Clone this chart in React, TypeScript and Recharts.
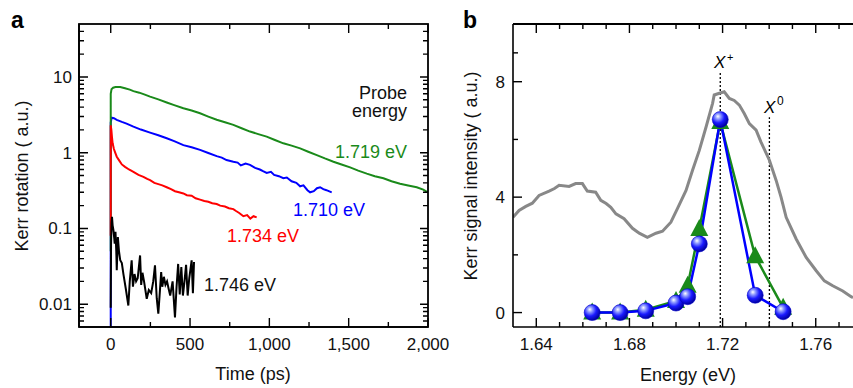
import React from 'react';
import { LineChart, Line, XAxis, YAxis, ReferenceLine } from 'recharts';

const FONT = '"Liberation Sans", Arial, Helvetica, sans-serif';
const GREEN = '#1a8a1a';

// ---------- Panel a: time-resolved Kerr rotation ----------
const greenT = [0, 0, 5, 15, 30, 60, 90, 120, 143, 180, 215, 248, 300, 353, 400, 458, 510, 563, 615, 668, 720, 773, 825, 878, 930, 983, 1035, 1088, 1140, 1194, 1245, 1299, 1350, 1404, 1455, 1509, 1560, 1614, 1665, 1719, 1770, 1824, 1875, 1929, 1970, 2000];
const greenV = [0.05, 6.0, 6.9, 7.2, 7.35, 7.35, 7.1, 6.8, 6.5, 6.2, 5.85, 5.5, 5.05, 4.6, 4.25, 3.87, 3.6, 3.32, 3.0, 2.72, 2.52, 2.33, 2.1, 1.9, 1.76, 1.63, 1.47, 1.33, 1.24, 1.14, 1.03, 0.93, 0.84, 0.76, 0.7, 0.64, 0.58, 0.53, 0.49, 0.46, 0.42, 0.39, 0.37, 0.35, 0.325, 0.3];

const blueT = [0, 0, 6, 20, 38, 70, 100, 143, 190, 248, 300, 353, 400, 458, 510, 563, 615, 668, 700, 730, 773, 800, 820, 850, 878, 910, 940, 960, 983, 1010, 1030, 1060, 1088, 1110, 1140, 1170, 1194, 1215, 1240, 1257, 1280, 1300, 1320, 1340, 1360, 1393];
const blueV = [0.005, 2.5, 2.9, 2.85, 2.71, 2.55, 2.42, 2.21, 2.02, 1.84, 1.7, 1.55, 1.42, 1.26, 1.18, 1.09, 0.99, 0.9, 0.86, 0.8, 0.76, 0.74, 0.68, 0.72, 0.69, 0.63, 0.6, 0.57, 0.54, 0.56, 0.51, 0.49, 0.46, 0.47, 0.42, 0.4, 0.36, 0.37, 0.32, 0.3, 0.31, 0.34, 0.35, 0.33, 0.32, 0.3];

const redT = [0, 0, 4, 8, 12, 20, 30, 38, 55, 70, 90, 115, 143, 175, 206, 230, 248, 275, 300, 325, 353, 380, 405, 430, 458, 480, 510, 535, 563, 590, 615, 640, 668, 690, 720, 745, 773, 790, 810, 836, 860, 880, 900, 920];
const redV = [0.08, 2.3, 2.0, 1.6, 1.33, 1.12, 0.98, 0.885, 0.78, 0.7, 0.65, 0.6, 0.56, 0.51, 0.48, 0.45, 0.435, 0.4, 0.385, 0.37, 0.35, 0.33, 0.31, 0.3, 0.29, 0.275, 0.27, 0.25, 0.24, 0.23, 0.225, 0.215, 0.21, 0.2, 0.195, 0.185, 0.18, 0.17, 0.16, 0.145, 0.15, 0.135, 0.145, 0.14];

const blackT = [0, 2, 5, 8, 12, 17, 22, 25, 30, 35, 38, 45, 52, 60, 70, 80, 95, 111, 120, 132, 140, 150, 160, 170, 185, 192, 200, 210, 227, 240, 255, 268, 279, 290, 300, 310, 318, 325, 335, 345, 355, 365, 375, 390, 405, 415, 425, 435, 445, 455, 465, 475, 485, 495, 510, 518, 525];
const blackV = [0.009, 0.06, 0.12, 0.142, 0.11, 0.095, 0.075, 0.063, 0.09, 0.05, 0.028, 0.077, 0.05, 0.038, 0.035, 0.025, 0.016, 0.0096, 0.02, 0.038, 0.017, 0.025, 0.02, 0.022, 0.044, 0.018, 0.026, 0.02, 0.0118, 0.0154, 0.014, 0.02, 0.0325, 0.012, 0.0075, 0.015, 0.0265, 0.017, 0.023, 0.018, 0.02, 0.016, 0.013, 0.02, 0.0067, 0.017, 0.034, 0.0135, 0.031, 0.013, 0.02, 0.033, 0.013, 0.022, 0.038, 0.014, 0.036];

const timeDomain = [-200, 2000];
const logDomain = [0.005, 50];
const timeMajorTicks = [0, 500, 1000, 1500, 2000];
const timeMajorLabels = ['0', '500', '1,000', '1,500', '2,000'];
const timeMinorTicks = [250, 750, 1250, 1750];
const logMajorTicks = [0.01, 0.1, 1, 10];
const logMajorLabels = ['0.01', '0.1', '1', '10'];
const logMinorTicks = [0.006, 0.007, 0.008, 0.009, 0.02, 0.03, 0.04, 0.05, 0.06, 0.07, 0.08, 0.09, 0.2, 0.3, 0.4, 0.5, 0.6, 0.7, 0.8, 0.9, 2, 3, 4, 5, 6, 7, 8, 9, 20, 30, 40];

// ---------- Panel b: spectra ----------
const plE = [1.63, 1.6326, 1.6355, 1.6383, 1.6412, 1.6455, 1.6478, 1.6498, 1.6541, 1.6569, 1.6598, 1.6619, 1.6655, 1.6677, 1.67, 1.672, 1.6742, 1.6777, 1.6813, 1.6842, 1.6877, 1.6914, 1.6942, 1.6978, 1.7006, 1.7043, 1.7071, 1.71, 1.7129, 1.7157, 1.7164, 1.7186, 1.7207, 1.7229, 1.725, 1.7272, 1.7293, 1.7315, 1.7344, 1.7365, 1.7401, 1.743, 1.7451, 1.7473, 1.7516, 1.7559, 1.7602, 1.7637, 1.7673, 1.7716, 1.7752, 1.776];
const plV = [3.3, 3.54, 3.68, 3.79, 4.06, 4.21, 4.3, 4.41, 4.37, 4.47, 4.47, 4.21, 4.17, 3.89, 3.78, 3.65, 3.42, 3.25, 2.92, 2.75, 2.61, 2.75, 2.82, 3.13, 3.6, 4.23, 4.93, 5.62, 6.43, 7.25, 7.54, 7.6, 7.65, 7.42, 7.35, 7.19, 6.9, 6.55, 6.32, 5.91, 5.28, 4.58, 4.0, 3.3, 2.55, 1.91, 1.45, 1.1, 0.93, 0.75, 0.55, 0.52];

const probeE = [1.664, 1.676, 1.687, 1.7, 1.705, 1.71, 1.719, 1.734, 1.746];
const blueSignal = [0, 0, 0.06, 0.33, 0.55, 2.38, 6.69, 0.6, 0.03];
const greenSignal = [0, 0, 0.1, 0.4, 0.93, 2.9, 6.6, 1.95, 0.17];

const eDomain = [1.63, 1.776];
const sDomain = [-0.5, 10];
const eMajorTicks = [1.64, 1.68, 1.72, 1.76];
const eMajorLabels = ['1.64', '1.68', '1.72', '1.76'];
const eMinorTicks = [1.65, 1.66, 1.67, 1.69, 1.7, 1.71, 1.73, 1.74, 1.75, 1.77];
const sMajorTicks = [0, 4, 8];
const sMajorLabels = ['0', '4', '8'];
const sMinorTicks = [2, 6, 9];

const xPlusEnergy = 1.719;
const xZeroEnergy = 1.7401;

const zip = (xs: number[], ys: number[], kx: string, ky: string) => xs.map((x, i) => ({ [kx]: x, [ky]: ys[i] }));
const greenData = zip(greenT, greenV, 't', 'v');
const blueData = zip(blueT, blueV, 't', 'v');
const redData = zip(redT, redV, 't', 'v');
const blackData = zip(blackT, blackV, 't', 'v');
const plData = zip(plE, plV, 'e', 'v');
const blueSigData = zip(probeE, blueSignal, 'e', 'v');
const greenSigData = zip(probeE, greenSignal, 'e', 'v');

// layout (pixels)
const TOP = 24;
const PLOT_H = 303;
const A_LEFT = 79;
const A_W = 349;
const B_LEFT = 513;

const labelOf = (v: number, ticks: number[], labels: string[]) => {
  const i = ticks.indexOf(v);
  return i >= 0 ? labels[i] : null;
};

// bottom ticks (inward) + mirrored top ticks
const makeBottomTick = (ticks: number[], labels: string[]) => (p: any) => {
  const { x, y, payload } = p;
  const lab = labelOf(payload.value, ticks, labels);
  const len = lab !== null ? 9 : 5;
  return (
    <g>
      <path d={`M${x},${y}V${y - len}M${x},${TOP}V${TOP + len}`} stroke="#000" strokeWidth={1.4} fill="none" />
      {lab !== null && (
        <text x={x} y={y + 23} textAnchor="middle" fontSize={17} fontFamily={FONT} fill="#111">{lab}</text>
      )}
    </g>
  );
};
// left ticks (inward) + optional mirrored right ticks
const makeLeftTick = (ticks: number[], labels: string[], gap: number, mirrorX: number) => (p: any) => {
  const { x, y, payload } = p;
  const lab = labelOf(payload.value, ticks, labels);
  const len = lab !== null ? 9 : 5;
  const rlen = lab !== null ? 8 : 5;
  const d = mirrorX > 0 ? `M${x},${y}H${x + len}M${mirrorX},${y}H${mirrorX - rlen}` : `M${x},${y}H${x + len}`;
  return (
    <g>
      <path d={d} stroke="#000" strokeWidth={1.4} fill="none" />
      {lab !== null && (
        <text x={x - gap} y={y + 6} textAnchor="end" fontSize={17} fontFamily={FONT} fill="#111">{lab}</text>
      )}
    </g>
  );
};

const Sphere = (p: any) => {
  const { cx, cy } = p;
  if (cx == null || cy == null) return <g />;
  return <circle cx={cx} cy={cy} r={8} fill="url(#sphereGrad)" stroke="#0000c8" strokeWidth={0.6} />;
};
const Tri = (p: any) => {
  const { cx, cy } = p;
  if (cx == null || cy == null) return <g />;
  return <polygon points={`${cx},${cy - 10} ${cx - 9},${cy + 7} ${cx + 9},${cy + 7}`} fill={GREEN} />;
};

const axisLine = { stroke: '#000', strokeWidth: 1.6 };

export default function App() {
  const timeAll = [...timeMajorTicks, ...timeMinorTicks].sort((a, b) => a - b);
  const logAll = [...logMajorTicks, ...logMinorTicks].sort((a, b) => a - b);
  const eAll = [...eMajorTicks, ...eMinorTicks].sort((a, b) => a - b);
  const sAll = [...sMajorTicks, ...sMinorTicks].sort((a, b) => a - b);
  return (
    <div style={{ position: 'absolute', left: 0, top: 0, width: 853, height: 388, background: '#fff', overflow: 'hidden', fontFamily: FONT }}>
      <svg width={0} height={0} style={{ position: 'absolute' }}>
        <defs>
          <radialGradient id="sphereGrad" cx="38%" cy="35%" r="65%" fx="35%" fy="30%">
            <stop offset="0%" stopColor="#ffffff" />
            <stop offset="25%" stopColor="#8f9bff" />
            <stop offset="60%" stopColor="#1a1aff" />
            <stop offset="100%" stopColor="#0000a0" />
          </radialGradient>
        </defs>
      </svg>

      <div style={{ position: 'absolute', left: 0, top: 0 }}>
        <LineChart width={460} height={388} margin={{ top: TOP, right: 460 - A_LEFT - A_W, left: 0, bottom: 0 }}>
          <XAxis type="number" dataKey="t" domain={timeDomain} allowDataOverflow ticks={timeAll} interval={0}
            tickSize={0} tickMargin={0} height={388 - TOP - PLOT_H} axisLine={axisLine} tick={makeBottomTick(timeMajorTicks, timeMajorLabels)} />
          <YAxis type="number" dataKey="v" scale="log" domain={logDomain} allowDataOverflow ticks={logAll} interval={0}
            tickSize={0} tickMargin={0} width={A_LEFT} axisLine={axisLine} tick={makeLeftTick(logMajorTicks, logMajorLabels, 7, A_LEFT + A_W)} />
          <Line data={blueData} dataKey="v" stroke="#0000ff" strokeWidth={2} dot={false} isAnimationActive={false} />
          <Line data={greenData} dataKey="v" stroke={GREEN} strokeWidth={2} dot={false} isAnimationActive={false} />
          <Line data={redData} dataKey="v" stroke="#ff0000" strokeWidth={2} dot={false} isAnimationActive={false} />
          <Line data={blackData} dataKey="v" stroke="#000" strokeWidth={2} dot={false} isAnimationActive={false} />
        </LineChart>
      </div>

      <div style={{ position: 'absolute', left: 430, top: 0 }}>
        <LineChart width={423} height={388} margin={{ top: TOP, right: 0, left: 0, bottom: 0 }}>
          <XAxis type="number" dataKey="e" domain={eDomain} allowDataOverflow ticks={eAll} interval={0}
            tickSize={0} tickMargin={0} height={388 - TOP - PLOT_H} axisLine={axisLine} tick={makeBottomTick(eMajorTicks, eMajorLabels)} />
          <YAxis type="number" dataKey="v" domain={sDomain} allowDataOverflow ticks={sAll} interval={0}
            tickSize={0} tickMargin={0} width={B_LEFT - 430} axisLine={axisLine} tick={makeLeftTick(sMajorTicks, sMajorLabels, 8, 0)} />
          <ReferenceLine segment={[{ x: xPlusEnergy, y: sDomain[0] }, { x: xPlusEnergy, y: 8.3 }]} stroke="#000" strokeWidth={1.3} strokeDasharray="2 2" />
          <ReferenceLine segment={[{ x: xZeroEnergy, y: sDomain[0] }, { x: xZeroEnergy, y: 6.77 }]} stroke="#000" strokeWidth={1.3} strokeDasharray="2 2" />
          <Line data={plData} dataKey="v" stroke="#888888" strokeWidth={3} dot={false} isAnimationActive={false} />
          <Line data={greenSigData} dataKey="v" stroke={GREEN} strokeWidth={2.5} dot={(p: any) => <Tri key={`t${p.index}`} {...p} />} isAnimationActive={false} />
          <Line data={blueSigData} dataKey="v" stroke="#0000ff" strokeWidth={2.5} dot={(p: any) => <Sphere key={`s${p.index}`} {...p} />} isAnimationActive={false} />
        </LineChart>
      </div>

      <svg width={853} height={388} style={{ position: 'absolute', left: 0, top: 0, pointerEvents: 'none' }} fontFamily={FONT}>
        <rect x={A_LEFT} y={TOP} width={A_W} height={PLOT_H} fill="none" stroke="#000" strokeWidth={1.8} />
        <path d={`M${B_LEFT},${TOP}H853`} fill="none" stroke="#000" strokeWidth={1.8} />

        <text x={11} y={28} fontSize={23} fontWeight="bold" fill="#000">a</text>
        <text x={463} y={28} fontSize={23} fontWeight="bold" fill="#000">b</text>

        <text x={407} y={99} fontSize={18} textAnchor="end" fill="#111">Probe</text>
        <text x={407} y={117} fontSize={18} textAnchor="end" fill="#111">energy</text>
        <text x={407} y={158} fontSize={18} textAnchor="end" fill={GREEN}>1.719 eV</text>
        <text x={293} y={216} fontSize={18} fill="#0000ff">1.710 eV</text>
        <text x={227} y={242} fontSize={18} fill="#ff0000">1.734 eV</text>
        <text x={204} y={291} fontSize={18} fill="#111">1.746 eV</text>

        <text x={253} y={380} fontSize={18} textAnchor="middle" fill="#111">Time (ps)</text>
        <text transform="translate(28,176) rotate(-90)" fontSize={18} textAnchor="middle" fill="#111">Kerr rotation ( a.u.)</text>

        <text x={688} y={381} fontSize={18} textAnchor="middle" fill="#111">Energy (eV)</text>
        <text transform="translate(477,176) rotate(-90)" fontSize={18} textAnchor="middle" fill="#111">Kerr signal intensity ( a.u.)</text>

        <text x={714} y={68} fontSize={17} fontStyle="italic" fill="#000">X</text>
        <text x={727} y={61} fontSize={11} fill="#000">+</text>
        <text x={764} y={113} fontSize={17} fontStyle="italic" fill="#000">X</text>
        <text x={777} y={105} fontSize={12} fill="#000">0</text>
      </svg>
    </div>
  );
}
